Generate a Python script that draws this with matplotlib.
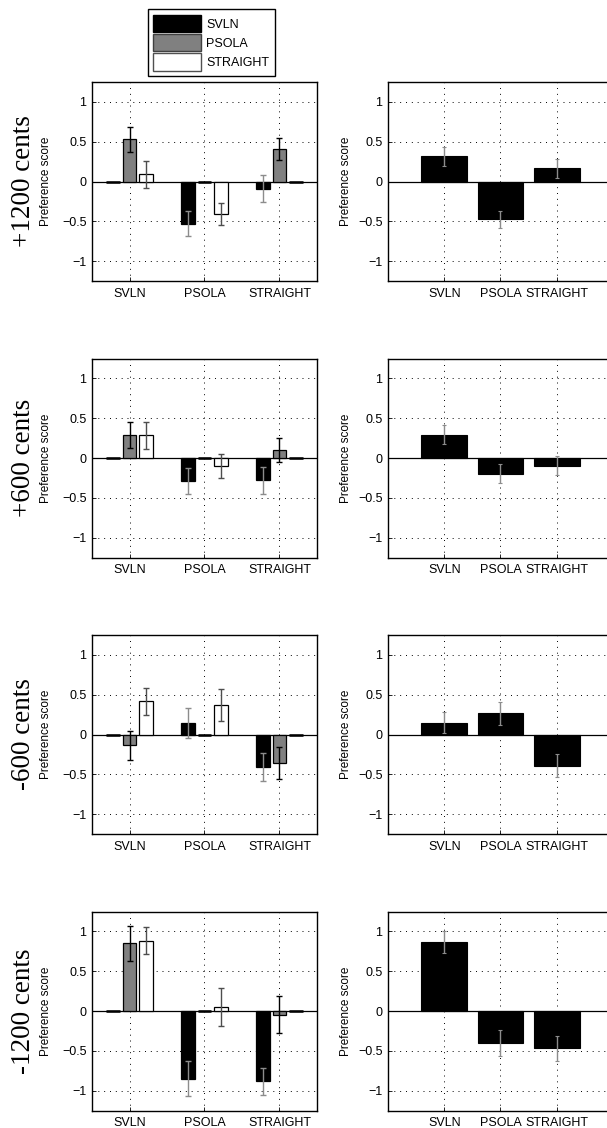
import numpy as np
import matplotlib
matplotlib.use("Agg")
import matplotlib.pyplot as plt
from matplotlib.patches import Patch

methods = ["SVLN", "PSOLA", "STRAIGHT"]
shift_labels = ["+1200 cents", "+600 cents", "-600 cents", "-1200 cents"]

# pairwise preference: one row per x group, columns = SVLN / PSOLA / STRAIGHT bars
pair_p1200 = [[0.0, 0.53, 0.09], [-0.53, 0.0, -0.41], [-0.09, 0.41, 0.0]]
pair_err_p1200 = [[0.0, 0.155, 0.17], [0.155, 0.0, 0.14], [0.17, 0.14, 0.0]]
pair_p600 = [[0.0, 0.29, 0.285], [-0.29, 0.0, -0.096], [-0.28, 0.10, 0.0]]
pair_err_p600 = [[0.0, 0.16, 0.17], [0.16, 0.0, 0.15], [0.17, 0.15, 0.0]]
pair_m600 = [[0.0, -0.135, 0.415], [0.14, 0.0, 0.37], [-0.41, -0.36, 0.0]]
pair_err_m600 = [[0.0, 0.185, 0.175], [0.19, 0.0, 0.2], [0.175, 0.2, 0.0]]
pair_m1200 = [[0.0, 0.85, 0.88], [-0.85, 0.0, 0.05], [-0.88, -0.046, 0.0]]
pair_err_m1200 = [[0.0, 0.22, 0.17], [0.22, 0.0, 0.234], [0.17, 0.23, 0.0]]

# overall preference per method
score_p1200 = [0.315, -0.475, 0.165]
score_err_p1200 = [0.12, 0.11, 0.12]
score_p600 = [0.29, -0.195, -0.095]
score_err_p600 = [0.12, 0.115, 0.115]
score_m600 = [0.15, 0.265, -0.39]
score_err_m600 = [0.13, 0.14, 0.14]
score_m1200 = [0.87, -0.40, -0.47]
score_err_m1200 = [0.14, 0.167, 0.155]

pairs = [pair_p1200, pair_p600, pair_m600, pair_m1200]
pair_errs = [pair_err_p1200, pair_err_p600, pair_err_m600, pair_err_m1200]
scores = [score_p1200, score_p600, score_m600, score_m1200]
score_errs = [score_err_p1200, score_err_p600, score_err_m600, score_err_m1200]

bar_colors = ["black", "#808080", "white"]
err_colors = ["#8c8c8c", "black", "#4d4d4d"]

plt.rcParams["font.family"] = "Liberation Sans"
plt.rcParams["axes.unicode_minus"] = True

fig = plt.figure(figsize=(6.07, 11.28), dpi=100)

W, H = 607.0, 1128.0
ax_w, ax_h = 225.0, 199.0
tops = [82.0, 358.5, 635.0, 911.5]


def style_axes(ax):
    ax.set_ylim(-1.25, 1.25)
    ax.set_yticks([-1, -0.5, 0, 0.5, 1])
    ax.set_yticklabels(["\u22121", "\u22120.5", "0", "0.5", "1"])
    ax.set_xticks([1, 2, 3])
    ax.set_xticklabels(methods)
    ax.tick_params(axis="both", direction="in", length=3, width=0.6,
                   labelsize=9, colors="black")
    ax.tick_params(axis="x", pad=5)
    ax.tick_params(axis="y", pad=4)
    ax.grid(True, color="black", linestyle=(0, (1, 5)), linewidth=0.7)
    ax.set_axisbelow(True)
    for s in ax.spines.values():
        s.set_linewidth(1.0)
    ax.axhline(0, color="black", linewidth=0.9, zorder=1.5)


x = np.arange(1, 4)
offsets = [-0.222, 0.0, 0.222]

for r in range(4):
    bottom = 1 - (tops[r] + ax_h) / H

    # grouped pairwise bars
    ax = fig.add_axes([92 / W, bottom, ax_w / W, ax_h / H])
    vals = np.array(pairs[r])
    errs = np.array(pair_errs[r])
    for j in range(3):
        ax.bar(x + offsets[j], vals[:, j], width=0.18, color=bar_colors[j],
               edgecolor="black", linewidth=0.9, zorder=2)
        m = errs[:, j] > 0
        ax.errorbar((x + offsets[j])[m], vals[m, j], yerr=errs[m, j], fmt="none",
                    ecolor=err_colors[j], elinewidth=1.0, capsize=2, capthick=1.0,
                    zorder=3)
        # zero-height bars show up as a short dark stroke on the baseline
        z = vals[:, j] == 0
        ax.hlines(np.zeros(z.sum()), (x + offsets[j])[z] - 0.09,
                  (x + offsets[j])[z] + 0.09, color="black", linewidth=1.8, zorder=2.5)
    ax.set_xlim(0.5, 3.5)
    style_axes(ax)
    ax.text(-0.205, 0.5, "Preference score", transform=ax.transAxes, rotation=90,
            ha="center", va="center", fontsize=8.5)
    fig.text(24 / W, bottom + ax_h / H / 2, shift_labels[r], rotation=90,
             ha="center", va="center", fontsize=19.5, family="Liberation Serif")

    # overall method scores
    ax2 = fig.add_axes([388 / W, bottom, ax_w / W, ax_h / H])
    ax2.bar(x, scores[r], width=0.81, color="black", edgecolor="black",
            linewidth=0.8, zorder=2)
    ax2.errorbar(x, scores[r], yerr=score_errs[r], fmt="none", ecolor="#8c8c8c",
                 elinewidth=1.0, capsize=1.2, capthick=0.8, zorder=3)
    ax2.set_xlim(0, 4)
    style_axes(ax2)
    ax2.text(-0.188, 0.5, "Preference score", transform=ax2.transAxes, rotation=90,
             ha="center", va="center", fontsize=8.5)

handles = [Patch(facecolor="black", edgecolor="black", label="SVLN"),
           Patch(facecolor="#808080", edgecolor="#404040", label="PSOLA"),
           Patch(facecolor="white", edgecolor="#505050", label="STRAIGHT")]
leg = fig.legend(handles=handles, loc="upper left",
                 bbox_to_anchor=(147.7 / W, 1 - 9.3 / H), borderaxespad=0,
                 fontsize=9, handlelength=3.8, handleheight=1.75,
                 labelspacing=0.15, handletextpad=0.45, borderpad=0.45,
                 fancybox=False, framealpha=1, edgecolor="black")
leg.get_frame().set_linewidth(1.0)

fig.savefig("out.png", dpi=100)
